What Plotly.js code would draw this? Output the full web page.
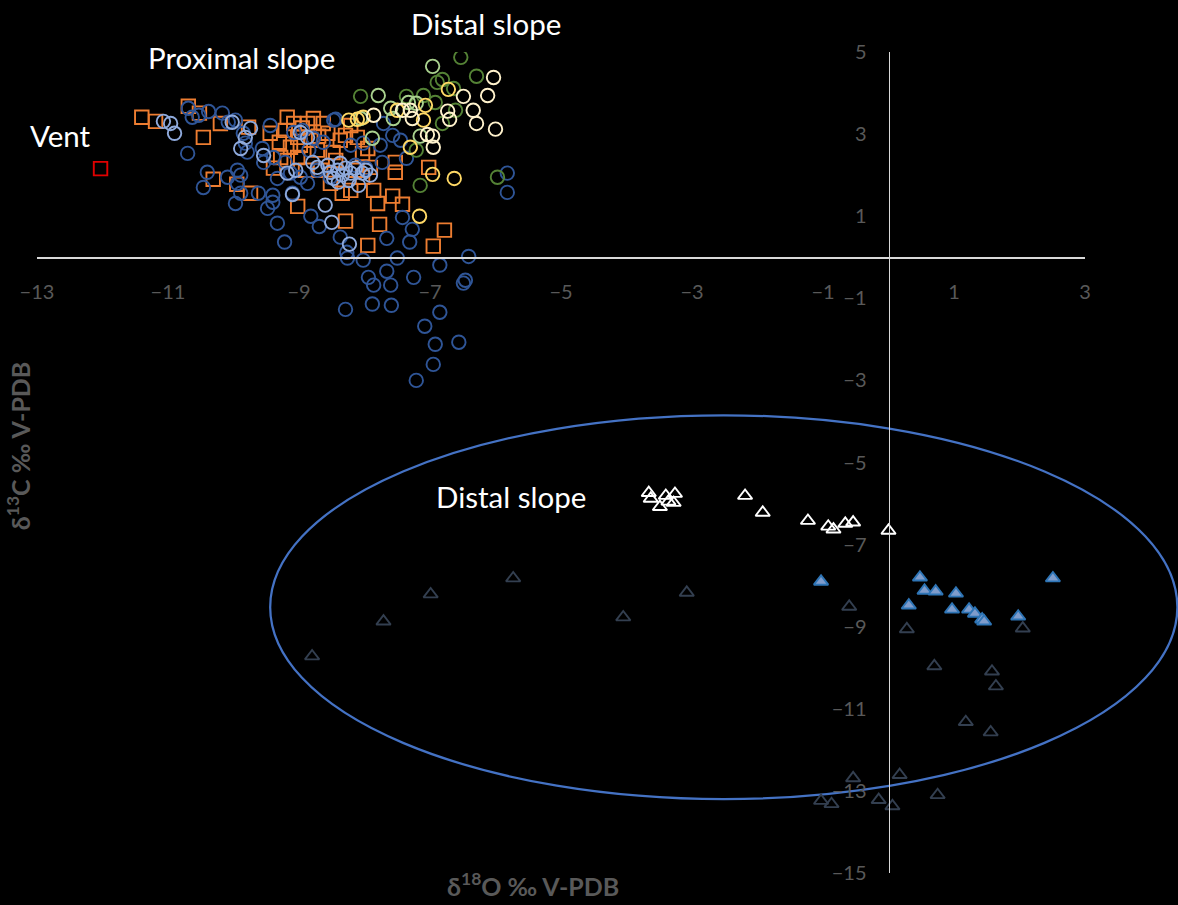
<!DOCTYPE html>
<html>
<head>
<meta charset="utf-8">
<script src="https://cdn.plot.ly/plotly-3.0.1.min.js"></script>
<style>
  html, body { margin: 0; padding: 0; background: #000; }
  #chart { width: 1178px; height: 905px; }
</style>
</head>
<body>
<div id="chart"></div>
<script>
// δ18O (x) and δ13C (y), ‰ V-PDB

// Vent
const ventX = [-12.03];
const ventY = [2.16];

// Proximal slope (squares)
const proxX = [-11.40, -11.19, -10.69, -10.52, -10.46, -10.20, -10.31, -9.95, -9.77, -9.74,
  -9.18, -8.78, -9.39, -8.52, -8.34, -8.21, -7.80, -8.03, -7.95, -8.11,
  -8.29, -8.37, -8.56, -9.02, -9.13, -9.28, -9.02, -8.72, -8.90, -8.67,
  -7.91, -8.03, -8.87, -8.63, -9.08, -9.44, -9.02, -8.29, -7.77, -7.95,
  -7.57, -7.86, -7.42, -6.78, -6.95, -7.02, -7.53, -7.53, -9.21, -8.98,
  -8.82, -9.18, -8.44, -8.21, -8.14, -8.95, -8.70, -8.48, -9.30];
const proxY = [3.41, 3.31, 3.68, 3.51, 2.92, 3.26, 1.90, 1.78, 3.17, 1.56,
  3.41, 3.38, 2.17, 1.80, 1.56, 1.63, 1.31, 2.53, 2.65, 2.92,
  2.97, 2.85, 3.02, 2.92, 2.68, 2.43, 2.43, 2.61, 2.12, 2.12,
  2.19, 1.95, 3.26, 3.26, 3.26, 3.02, 1.24, 0.88, 0.80, 0.29,
  1.49, 1.63, 1.29, 0.66, 0.27, 2.19, 2.31, 2.07, 3.09, 2.73,
  2.85, 2.36, 2.36, 3.21, 2.12, 3.15, 2.95, 2.55, 2.80];

// Proximal slope (dark blue circles)
const proxBlueX = [-10.69, -10.63, -10.53, -10.38, -10.17, -10.08, -9.85, -9.82, -9.79, -10.70,
  -10.40, -10.46, -10.09, -9.89, -9.94, -9.97, -9.97, -9.56, -9.44, -9.39,
  -9.21, -9.08, -8.95, -8.78, -8.63, -8.47, -8.85, -8.98, -8.72, -8.87,
  -8.52, -9.33, -9.54, -9.94, -9.89, -9.40, -9.48, -9.10, -9.13, -8.21,
  -8.02, -7.76, -7.73, -7.98, -8.44, -7.71, -7.57, -7.45, -7.36, -8.14,
  -9.62, -9.40, -9.33, -9.22, -8.82, -8.69, -8.37, -8.27, -8.26, -8.02,
  -7.94, -7.86, -7.66, -7.60, -7.50, -7.66, -7.42, -7.27, -7.31, -6.85,
  -7.25, -6.41, -6.46, -6.49, -8.29, -7.88, -7.59, -6.85, -7.08, -6.92,
  -6.56, -6.95, -7.21, -5.82, -5.82];
const proxBlueY = [3.63, 3.41, 3.46, 3.55, 3.51, 3.29, 3.02, 2.78, 2.56, 2.53,
  2.07, 1.70, 1.95, 2.00, 1.80, 1.31, 3.34, 2.65, 3.21, 2.43,
  2.31, 3.04, 3.09, 2.90, 2.80, 3.34, 2.61, 1.95, 2.12, 1.80,
  1.95, 1.92, 2.31, 2.12, 1.56, 1.34, 1.19, 1.56, 2.05, 2.73,
  2.78, 2.73, 2.31, 2.17, 3.36, 3.26, 2.97, 2.85, 2.41, 2.24,
  1.56, 1.51, 0.83, 0.37, 1.00, 0.75, 0.49, 0.12, -0.02, -0.07,
  -0.49, -0.68, -0.34, -0.68, -0.02, 0.46, 0.97, 0.68, 0.37, -0.19,
  -0.49, 0.02, -0.56, -0.63, -1.27, -1.14, -1.17, -1.34, -1.68, -2.12,
  -2.07, -2.61, -3.00, 2.05, 1.58];

// Proximal slope (light blue circles)
const proxLightX = [-11.07, -10.96, -10.90, -9.74, -9.82, -9.89, -9.54, -8.98, -8.87, -9.18,
  -9.05, -8.79, -8.72, -8.56, -8.52, -8.41, -8.34, -8.29, -8.21, -8.47,
  -8.40, -8.14, -8.03, -7.98, -8.37, -8.24, -8.60, -9.10, -8.50, -8.23,
  -10.02, -7.91, -8.09];
const proxLightY = [3.31, 3.26, 3.02, 3.14, 2.92, 2.65, 2.48, 3.04, 2.92, 2.05,
  2.12, 2.31, 2.19, 2.24, 2.07, 2.12, 2.00, 2.17, 2.05, 1.92,
  1.83, 2.17, 2.05, 2.12, 2.29, 1.87, 1.27, 1.53, 0.85, 0.32,
  3.29, 2.00, 1.75];

// Distal slope (green circles)
const distGreenX = [-6.53, -6.29, -6.89, -6.81, -7.36, -8.06, -7.10, -6.92, -6.64, -6.61,
  -6.81, -7.21, -7.15, -5.97];
const distGreenY = [4.87, 4.41, 4.26, 4.33, 3.92, 3.92, 3.94, 3.77, 4.11, 3.58,
  3.26, 2.61, 1.75, 1.95];
const distLightGreenX = [-6.96, -7.79, -7.60, -7.56, -7.88, -7.15, -7.33, -7.21, -8.06];
const distLightGreenY = [4.65, 3.94, 3.63, 3.38, 2.90, 2.95, 3.77, 3.75, 3.38];

// Distal slope (yellow circles)
const distYellowX = [-6.72, -7.07, -7.10, -7.50, -8.11, -8.24, -7.30, -6.96, -6.63, -7.16, -8.02];
const distYellowY = [4.09, 3.70, 3.34, 3.58, 3.36, 3.34, 2.68, 2.02, 1.92, 1.00, 3.41];
const distPaleX = [-6.03, -6.12, -6.49, -6.34, -6.29, -6.00, -6.70, -6.73, -6.95, -6.96,
  -7.04, -7.42, -7.30, -7.27, -7.86];
const distPaleY = [4.38, 3.94, 3.92, 3.58, 3.26, 3.12, 3.36, 3.56, 2.68, 2.95,
  2.99, 3.58, 3.58, 3.38, 3.46];

// Distal slope (triangles)
const triWhiteX = [-3.66, -3.63, -3.40, -3.26, -3.36, -3.49, -3.28, -2.19, -1.92, -1.23,
  -0.92, -0.84, -0.66, -0.54, 0.00];
const triWhiteY = [-5.74, -5.88, -5.81, -5.76, -5.95, -6.08, -5.98, -5.81, -6.22, -6.42,
  -6.56, -6.63, -6.49, -6.46, -6.66];
const triBlueX = [-1.03, 0.48, 0.55, 0.72, 1.03, 0.31, 0.97, 1.23, 1.32, 1.43, 1.46, 1.98, 2.51];
const triBlueY = [-7.90, -7.80, -8.12, -8.14, -8.19, -8.48, -8.58, -8.58, -8.68, -8.82, -8.87, -8.75, -7.82];
const triGreyX = [-8.80, -7.71, -6.99, -5.73, -4.05, -3.08, -0.60, 0.28, 2.05, 0.70,
  1.58, 1.64, 1.18, 1.56, 0.17, -0.54, 0.75, -1.03, -0.87, -0.15, 0.06];
const triGreyY = [-9.72, -8.87, -8.21, -7.82, -8.77, -8.17, -8.51, -9.06, -9.04, -9.96,
  -10.09, -10.45, -11.32, -11.57, -12.61, -12.69, -13.10, -13.24, -13.32, -13.22, -13.37];

// Axis ranges and ticks
const xRange = [-13, 3];
const yRange = [-15, 5];
const xTicks = [-13, -11, -9, -7, -5, -3, -1, 1, 3];
const yTicks = [5, 3, 1, -1, -3, -5, -7, -9, -11, -13, -15];

// Outline around the distal-slope triangles, in data units
const ringX = [-9.44, 4.41];
const ringY = [-13.2, -3.85];

// Group labels, placed in data units
const labelText = ['Vent', 'Proximal slope', 'Distal slope', 'Distal slope'];
const labelX = [-12.64, -9.88, -6.14, -5.77];
const labelY = [2.97, 4.87, 5.70, -5.82];

const FONT = 'Lato, "Open Sans", sans-serif';

function pts(x, y, symbol, color, fill, size) {
  return {
    type: 'scatter', mode: 'markers', x: x, y: y, hoverinfo: 'x+y',
    marker: {
      symbol: symbol, size: size || 13.5,
      color: fill || color,
      line: { color: color, width: 1.9 }
    }
  };
}

const traces = [
  pts(proxX, proxY, 'square-open', '#ed7d31'),
  pts(proxBlueX, proxBlueY, 'circle-open', '#2f5597'),
  pts(proxLightX, proxLightY, 'circle-open', '#8faadc'),
  pts(ventX, ventY, 'square-open', '#e00000'),
  pts(distGreenX, distGreenY, 'circle-open', '#548235'),
  pts(distLightGreenX, distLightGreenY, 'circle-open', '#a9d18e'),
  pts(distYellowX, distYellowY, 'circle-open', '#ffd966'),
  pts(distPaleX, distPaleY, 'circle-open', '#fff2cc'),
  pts(triGreyX, triGreyY, 'triangle-up-open', '#333f50', null, 12.5),
  pts(triWhiteX, triWhiteY, 'triangle-up-open', '#ffffff', null, 12.5),
  pts(triBlueX, triBlueY, 'triangle-up', '#2e75b6', '#7f9ccb', 12.5)
];

// data value -> fraction of the plotting area
const px = v => (v - xRange[0]) / (xRange[1] - xRange[0]);
const py = v => (v - yRange[0]) / (yRange[1] - yRange[0]);

const annotations = labelText.map((t, i) => ({
  text: t, x: px(labelX[i]), y: py(labelY[i]), xref: 'paper', yref: 'paper',
  xanchor: 'center', yanchor: 'middle',
  showarrow: false, font: { family: FONT, size: 29.5, color: '#ffffff' }
}));
annotations.push({
  text: '<b>δ<sup>18</sup>O ‰ V-PDB</b>', xref: 'paper', yref: 'paper',
  x: 0.473, y: -0.0146, xanchor: 'center', yanchor: 'middle', showarrow: false,
  font: { family: FONT, size: 25, color: '#595959' }
});
annotations.push({
  text: '<b>δ<sup>13</sup>C ‰ V-PDB</b>', xref: 'paper', yref: 'paper',
  x: -0.018, y: 0.52, xanchor: 'center', yanchor: 'middle', textangle: -90, showarrow: false,
  font: { family: FONT, size: 25, color: '#595959' }
});

const axisCommon = {
  showgrid: false, zeroline: false, showline: true,
  linecolor: '#d9d9d9', linewidth: 1.5, ticks: '',
  tickfont: { family: FONT, size: 20, color: '#595959' },
  anchor: 'free', fixedrange: true
};

const layout = {
  width: 1178, height: 905,
  margin: { l: 37, r: 93, t: 52, b: 32 },
  paper_bgcolor: '#000000', plot_bgcolor: '#000000',
  showlegend: false,
  xaxis: Object.assign({}, axisCommon, {
    range: xRange, tickvals: xTicks, position: py(0),
    ticklabelstandoff: 16
  }),
  yaxis: Object.assign({}, axisCommon, {
    range: yRange, tickvals: yTicks, position: px(0),
    ticklabelstandoff: 18
  }),
  shapes: [{
    type: 'circle', xref: 'paper', yref: 'paper',
    x0: px(ringX[0]), x1: px(ringX[1]), y0: py(ringY[0]), y1: py(ringY[1]),
    line: { color: '#4472c4', width: 2.25 }, fillcolor: 'rgba(0,0,0,0)', layer: 'below'
  }],
  annotations: annotations
};

Plotly.newPlot('chart', traces, layout, { displayModeBar: false, staticPlot: true });
</script>
</body>
</html>
